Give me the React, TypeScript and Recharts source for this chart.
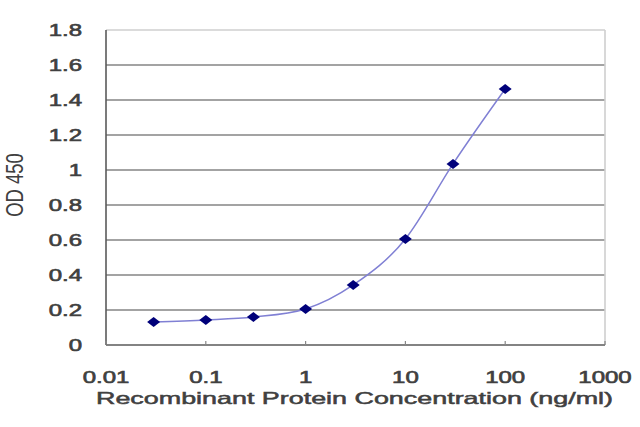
import React from "react";
import { LineChart, Line, XAxis, YAxis, ReferenceLine } from "recharts";

const concentrations = [0.03, 0.1, 0.3, 1, 3, 10, 30, 100];
const od450 = [0.131, 0.143, 0.16, 0.206, 0.343, 0.606, 1.035, 1.463];
const xTicks = [0.01, 0.1, 1, 10, 100, 1000];
const yTicks = [0, 0.2, 0.4, 0.6, 0.8, 1, 1.2, 1.4, 1.6, 1.8];

const data = concentrations.map((c, i) => ({ conc: c, od: od450[i] }));

const FONT = "'Liberation Sans', Arial, sans-serif";
const TEXT = "#404040";

function XTick(props: any) {
  const { x, y, payload } = props;
  const axisY = y - 27;
  return (
    <g>
      <line x1={x} x2={x} y1={axisY} y2={axisY - 4} stroke="#888" strokeWidth={1.2} />
      <text
        transform={`translate(${x},${y}) scale(1.5,1)`}
        textAnchor="middle"
        dy="0.71em"
        fontFamily={FONT}
        fontSize={16}
        fill={TEXT}
        stroke={TEXT}
        strokeWidth={0.6}
      >
        {String(payload.value)}
      </text>
    </g>
  );
}

function YTick(props: any) {
  const { x, y, payload } = props;
  return (
    <text
      transform={`translate(${x},${y}) scale(1.5,1)`}
      textAnchor="end"
      dy="0.36em"
      fontFamily={FONT}
      fontSize={16}
      fill={TEXT}
      stroke={TEXT}
      strokeWidth={0.6}
    >
      {String(payload.value)}
    </text>
  );
}

function Diamond(props: any) {
  const { cx, cy } = props;
  if (cx == null || cy == null) return null;
  return (
    <polygon
      points={`${cx - 6.5},${cy} ${cx},${cy - 5} ${cx + 6.5},${cy} ${cx},${cy + 5}`}
      fill="#00007a"
    />
  );
}

export default function App() {
  return (
    <div style={{ position: "fixed", left: 0, top: 0, background: "#fff" }}>
      <LineChart width={640} height={427} data={data} margin={{ top: 30, right: 35, bottom: 0, left: 0 }}>
        <XAxis
          dataKey="conc"
          type="number"
          scale="log"
          domain={[0.01, 1000]}
          ticks={xTicks}
          allowDataOverflow
          height={82}
          tickSize={5}
          tickMargin={22}
          tickLine={false}
          tick={<XTick />}
          axisLine={{ stroke: "#5a5a5a", strokeWidth: 1.6 }}
          label={{
            content: () => (
              <text
                x={96}
                y={404}
                textLength={517}
                lengthAdjust="spacingAndGlyphs"
                fontFamily={FONT}
                fontSize={16.5}
                fill={TEXT}
                stroke={TEXT}
                strokeWidth={0.5}
              >
                Recombinant Protein Concentration (ng/ml)
              </text>
            ),
          }}
        />
        <YAxis
          type="number"
          domain={[0, 1.8]}
          ticks={yTicks}
          width={106}
          tickSize={0}
          tickMargin={24}
          tickLine={false}
          tick={<YTick />}
          axisLine={{ stroke: "#5a5a5a", strokeWidth: 1.6 }}
          label={{
            content: () => (
              <text
                transform="translate(23,185) rotate(-90) scale(1.15,1.5)"
                textAnchor="middle"
                fontFamily={FONT}
                fontSize={16}
                fill={TEXT}
              >
                OD 450
              </text>
            ),
          }}
        />
        {yTicks.slice(1, -1).map((v) => (
          <ReferenceLine key={v} y={v} stroke="#858585" strokeWidth={1.6} />
        ))}
        <ReferenceLine y={yTicks[yTicks.length - 1]} stroke="#cfcfcf" strokeWidth={1.6} />
        <ReferenceLine x={xTicks[xTicks.length - 1]} stroke="#cfcfcf" strokeWidth={1.6} />
        <Line
          type="monotone"
          dataKey="od"
          stroke="#8080d4"
          strokeWidth={1.5}
          dot={<Diamond />}
          activeDot={false}
          isAnimationActive={false}
        />
      </LineChart>
    </div>
  );
}
